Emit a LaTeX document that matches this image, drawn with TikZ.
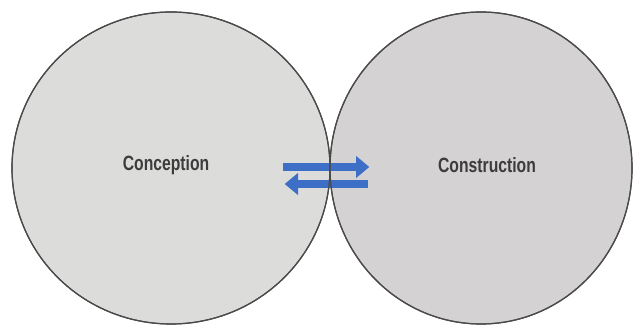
\documentclass[tikz,border=0pt]{standalone}
\usepackage{fontspec}
\setmainfont{Liberation Sans}
\usetikzlibrary{shapes.geometric,arrows.meta}
\definecolor{ringline}{HTML}{4A4A4A}
\definecolor{leftfill}{HTML}{DCDCDB}
\definecolor{rightfill}{HTML}{D4D2D2}
\definecolor{flowblue}{HTML}{3E6FC6}
\definecolor{labelgray}{HTML}{3C3C3C}
\tikzset{
  phase/.style={ellipse, inner sep=0pt, draw=ringline, line width=0.9pt},
  phaselabel/.style={font=\bfseries\fontsize{15.5}{17}\selectfont, text=labelgray, xscale=0.76},
  flow/.style={draw=flowblue, line width=6pt, -{Triangle[length=10pt,width=16pt]}, shorten >=-1pt}
}
\begin{document}
\begin{tikzpicture}[x=0.75pt,y=-0.75pt]
  \useasboundingbox[fill=white] (0,0) rectangle (634,327);
  % the two phases
  \node[phase, fill=leftfill, minimum width=238.5pt, minimum height=234pt] (conc) at (171,168) {};
  \node[phase, fill=rightfill, minimum width=226.5pt, minimum height=234pt] (cons) at (481,168) {};
  % two-way exchange between them
  \coordinate (a1) at (283,167);
  \coordinate (a2) at (368,167);
  \coordinate (b1) at (368,184);
  \coordinate (b2) at (286,184);
  \draw[flow] (a1) -- (a2);
  \draw[flow] (b1) -- (b2);
  % outlines stay visible over the arrows
  \node[phase, minimum width=238.5pt, minimum height=234pt] at (conc) {};
  \node[phase, minimum width=226.5pt, minimum height=234pt] at (cons) {};
  % labels
  \node[phaselabel] (lconc) at (166,165) {Conception};
  \node[phaselabel] (lcons) at (487,165) {Construction};
\end{tikzpicture}
\end{document}
